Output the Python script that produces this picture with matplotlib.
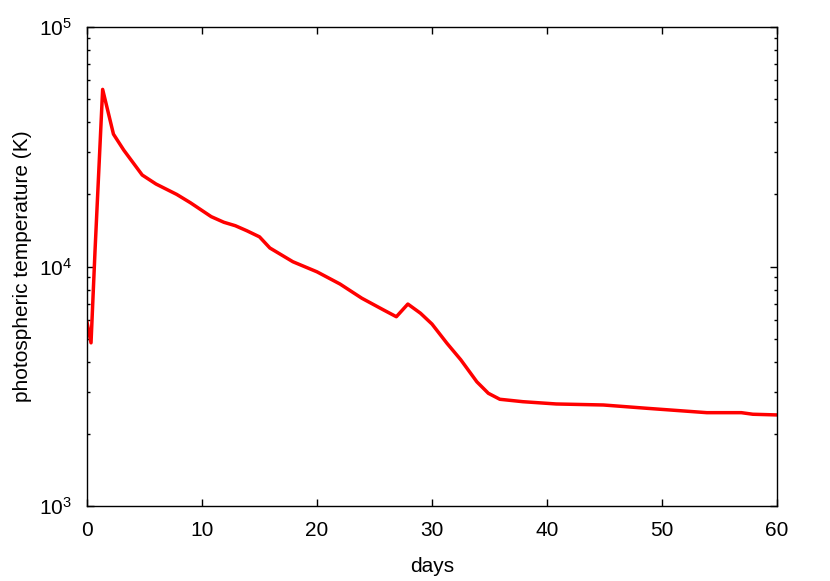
import matplotlib
matplotlib.use("Agg")
import matplotlib.pyplot as plt
from matplotlib.ticker import LogLocator, NullFormatter

# photospheric temperature vs time
days = [0.0, 0.35, 0.7, 1.36, 2.3, 3.2, 4.8, 6.0, 7.8, 9.0, 10.8, 11.9, 12.9,
        13.9, 15.0, 15.9, 17.9, 20.0, 22.0, 23.9, 25.8, 26.9, 27.9, 29.0, 30.0,
        31.3, 32.5, 33.9, 34.9, 35.9, 37.9, 40.8, 44.9, 48.7, 53.9, 56.9, 57.9, 60.0]
temp = [5850, 4800, 11700, 54900, 35700, 30600, 24100, 22100, 20000, 18450, 16150,
        15300, 14800, 14100, 13300, 11950, 10470, 9500, 8450, 7370, 6580, 6170, 6970,
        6380, 5750, 4780, 4080, 3300, 2955, 2790, 2726, 2667, 2641, 2558, 2453, 2453,
        2416, 2400]

xticks = [0, 10, 20, 30, 40, 50, 60]
yticks = [1e3, 1e4, 1e5]
ytick_labels = [r"$10^{3}$", r"$10^{4}$", r"$10^{5}$"]

plt.rcParams["font.family"] = ["Liberation Sans", "DejaVu Sans"]
plt.rcParams["mathtext.fontset"] = "custom"
plt.rcParams["mathtext.rm"] = "Liberation Sans"
plt.rcParams["mathtext.it"] = "Liberation Sans"

fig = plt.figure(figsize=(8.3, 5.81), dpi=100)
ax = fig.add_axes([87 / 830, 75 / 581, 690 / 830, 479 / 581])

ax.plot(days, temp, color="#ff0000", linewidth=2.5)

ax.set_yscale("log")
ax.set_xlim(0, 60)
ax.set_ylim(1e3, 1e5)
ax.set_xticks(xticks)
ax.set_yticks(yticks)
ax.set_yticklabels(ytick_labels, fontsize=16)
ax.yaxis.set_minor_locator(LogLocator(base=10, subs=range(2, 10)))
ax.yaxis.set_minor_formatter(NullFormatter())

ax.tick_params(which="both", direction="in", top=True, right=True,
               labelsize=15, color="black")
ax.tick_params(which="major", length=5, width=1)
ax.tick_params(which="minor", length=2.5, width=1)
ax.tick_params(axis="x", which="major", pad=11)
ax.tick_params(axis="y", which="major", pad=11)
for s in ax.spines.values():
    s.set_linewidth(1)

ax.set_xlabel("days", fontsize=15, labelpad=12)
ax.set_ylabel("photospheric temperature (K)", fontsize=15, labelpad=5)

fig.savefig("out.png", dpi=100)
